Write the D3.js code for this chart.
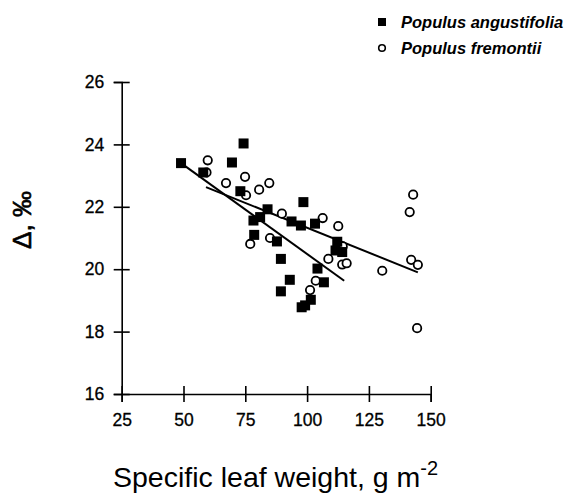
<!DOCTYPE html>
<html>
<head>
<meta charset="utf-8">
<script src="https://cdn.jsdelivr.net/npm/d3@7"></script>
<style>
  body { margin: 0; background: #fff; }
  svg { display: block; font-family: "Liberation Sans", Arial, Helvetica, sans-serif; }
</style>
</head>
<body>
<div id="viz"></div>
<script>
// data (specific leaf weight, delta)
const angustifolia = [
  [49, 23.4], [58, 23.1], [69.6, 23.42], [74.3, 24.03], [73, 22.5],
  [84, 21.92], [81, 21.67], [78.3, 21.56], [78.6, 21.1], [87.8, 20.89],
  [93.7, 21.53], [97.5, 21.4], [98.5, 22.15], [103.2, 21.46], [112.2, 20.88],
  [111.5, 20.6], [114.2, 20.55], [89.4, 20.33], [93, 19.66], [89.4, 19.29],
  [104.2, 20.02], [106.8, 19.58], [101.5, 19.02], [97.8, 18.78], [99.2, 18.84]
];
const fremontii = [
  [59.8, 23.49], [59.3, 23.1], [67.2, 22.76], [74.9, 22.96], [84.7, 22.76],
  [80.6, 22.55], [75.3, 22.37], [89.8, 21.78], [85, 21.0], [77, 20.81],
  [106.3, 21.64], [112.6, 21.38], [114.4, 20.73], [108.6, 20.33], [114.2, 20.15],
  [116, 20.19], [103.5, 19.63], [101.2, 19.33], [130.4, 19.95], [142.9, 22.39],
  [141.5, 21.83], [142.1, 20.3], [144.8, 20.14], [144.5, 18.11]
];
// fitted lines, end points
const fitAngustifolia = [[49, 23.4], [115, 19.63]];
const fitFremontii = [[59.1, 22.63], [144.8, 19.9]];

const xTicks = [25, 50, 75, 100, 125, 150];
const yTicks = [16, 18, 20, 22, 24, 26];
const legendLabels = ['Populus angustifolia', 'Populus fremontii'];

const width = 572, height = 493;

const svg = d3.select('#viz').append('svg')
  .attr('width', width)
  .attr('height', height);

const x = d3.scaleLinear().domain([25, 150]).range([121.7, 430.7]);
const y = d3.scaleLinear().domain([16, 26]).range([394, 82]);

// axes, ticks cross the axis line
const xAxis = svg.append('g')
  .attr('transform', `translate(0,${y(16)})`)
  .call(d3.axisBottom(x).tickValues(xTicks).tickSizeOuter(0).tickSize(8).tickPadding(12));
xAxis.selectAll('.tick line').attr('y1', -8).attr('y2', 8);

const yAxis = svg.append('g')
  .attr('transform', `translate(${x(25)},0)`)
  .call(d3.axisLeft(y).tickValues(yTicks).tickSizeOuter(0).tickSize(8).tickPadding(9.5));
yAxis.selectAll('.tick line').attr('x1', 8).attr('x2', -8);

svg.selectAll('.domain, .tick line').attr('stroke', '#000').attr('stroke-width', 1.6);
svg.selectAll('.tick text').attr('font-size', 17.5).attr('fill', '#000')
  .attr('stroke', '#000').attr('stroke-width', 0.3)
  .attr('font-family', '"Liberation Sans", Arial, sans-serif');

// fit lines
const line = d3.line().x(d => x(d[0])).y(d => y(d[1]));
svg.append('path').datum(fitAngustifolia).attr('d', line)
  .attr('fill', 'none').attr('stroke', '#000').attr('stroke-width', 2);
svg.append('path').datum(fitFremontii).attr('d', line)
  .attr('fill', 'none').attr('stroke', '#000').attr('stroke-width', 2);

// points
svg.append('g').selectAll('circle')
  .data(fremontii).join('circle')
  .attr('cx', d => x(d[0])).attr('cy', d => y(d[1]))
  .attr('r', 4.2)
  .attr('fill', '#fff').attr('stroke', '#000').attr('stroke-width', 1.8);

svg.append('g').selectAll('rect')
  .data(angustifolia).join('rect')
  .attr('x', d => x(d[0]) - 5).attr('y', d => y(d[1]) - 5)
  .attr('width', 10).attr('height', 10)
  .attr('fill', '#000');

// legend
const legend = svg.append('g');
legend.append('rect').attr('x', 378).attr('y', 18).attr('width', 8).attr('height', 8).attr('fill', '#000');
legend.append('circle').attr('cx', 382).attr('cy', 48).attr('r', 3.3)
  .attr('fill', '#fff').attr('stroke', '#000').attr('stroke-width', 1.6);
legend.selectAll('text')
  .data(legendLabels).join('text')
  .attr('x', 401).attr('y', (d, i) => 28 + i * 25.5)
  .attr('font-size', 16.5).attr('font-style', 'italic').attr('font-weight', 'bold')
  .text(d => d);

// axis titles
const xTitle = svg.append('text')
  .attr('x', 113).attr('y', 487)
  .attr('font-size', 28.5);
xTitle.append('tspan').text('Specific leaf weight, g m');
xTitle.append('tspan').attr('font-size', 20).attr('dy', -12).text('-2');

svg.append('text')
  .attr('transform', 'translate(31,220) rotate(-90)')
  .attr('text-anchor', 'middle')
  .attr('font-size', 26)
  .attr('stroke', '#000').attr('stroke-width', 0.6)
  .text('Δ, ‰');
</script>
</body>
</html>
